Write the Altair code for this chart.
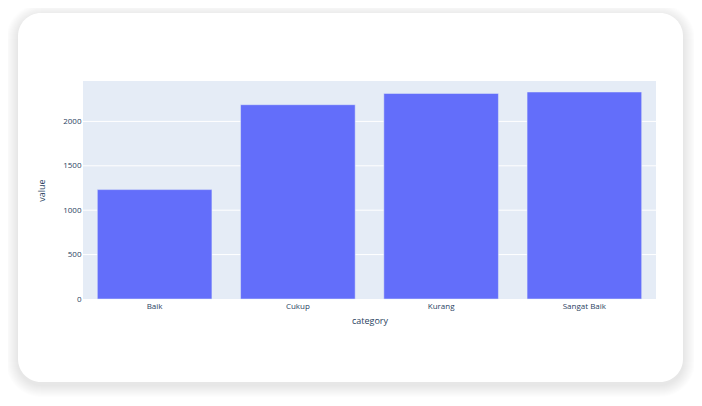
import altair as alt
import pandas as pd

categories = ["Baik", "Cukup", "Kurang", "Sangat Baik"]
values = [1232, 2188, 2315, 2331]
y_ticks = [0, 500, 1000, 1500, 2000]
grid_ticks = [500, 1000, 1500, 2000]

W, H = 573, 218
FONT = "Open Sans"
TXT = "#2a3f5f"

df = pd.DataFrame({"category": categories, "value": values})
grid_df = pd.DataFrame({"value": grid_ticks})

yscale = alt.Scale(domain=[0, 2455], nice=False, zero=True)
yaxis = alt.Axis(values=y_ticks, format="d", title="value", domain=False, ticks=False, grid=False,
                 labelFont=FONT, labelFontSize=8, labelColor=TXT, labelPadding=2,
                 titleFont=FONT, titleFontSize=9, titleFontWeight="normal",
                 titleColor=TXT, titlePadding=16, zindex=1)

one = alt.Data(values=[{}])

# card shadow (decoration)
shadow_layers = []
for i in range(1, 13):
    shadow_layers.append(
        alt.Chart(one).mark_rect(color="#000000", opacity=0.007, cornerRadius=23 + i)
        .encode(x=alt.value(-65 - i), x2=alt.value(600 + i),
                y=alt.value(-68 - i + 3), y2=alt.value(301 + i + 3))
    )

card = alt.Chart(one).mark_rect(color="#ffffff", cornerRadius=23).encode(
    x=alt.value(-65), x2=alt.value(600), y=alt.value(-68), y2=alt.value(301)
)

plot_bg = alt.Chart(one).mark_rect(color="#E5ECF6").encode(
    x=alt.value(0), x2=alt.value(W), y=alt.value(0), y2=alt.value(H)
)

grid = alt.Chart(grid_df).mark_rule(color="#ffffff", strokeWidth=1).encode(
    y=alt.Y("value:Q", scale=yscale, axis=yaxis)
)

bars = alt.Chart(df).mark_bar(color="#636EFA", stroke="#E5ECF6", strokeWidth=0.5).encode(
    x=alt.X("category:N", sort=categories,
            scale=alt.Scale(paddingInner=0.2, paddingOuter=0.1),
            axis=alt.Axis(title="category", labelAngle=0, domain=False, ticks=False,
                          labelFont=FONT, labelFontSize=8, labelColor=TXT, labelPadding=3,
                          titleFont=FONT, titleFontSize=9, titleFontWeight="normal",
                          titleColor=TXT, titlePadding=6, zindex=1)),
    y=alt.Y("value:Q", scale=yscale, axis=yaxis),
)

chart = alt.layer(*shadow_layers, card, plot_bg, grid, bars).properties(
    width=W, height=H,
    autosize=alt.AutoSizeParams(type="none"),
    padding={"left": 75, "top": 73, "right": 38, "bottom": 99},
    background="#ffffff",
).configure_view(stroke=None)

chart.save("out.html", embed_options={"renderer": "svg", "actions": False})
